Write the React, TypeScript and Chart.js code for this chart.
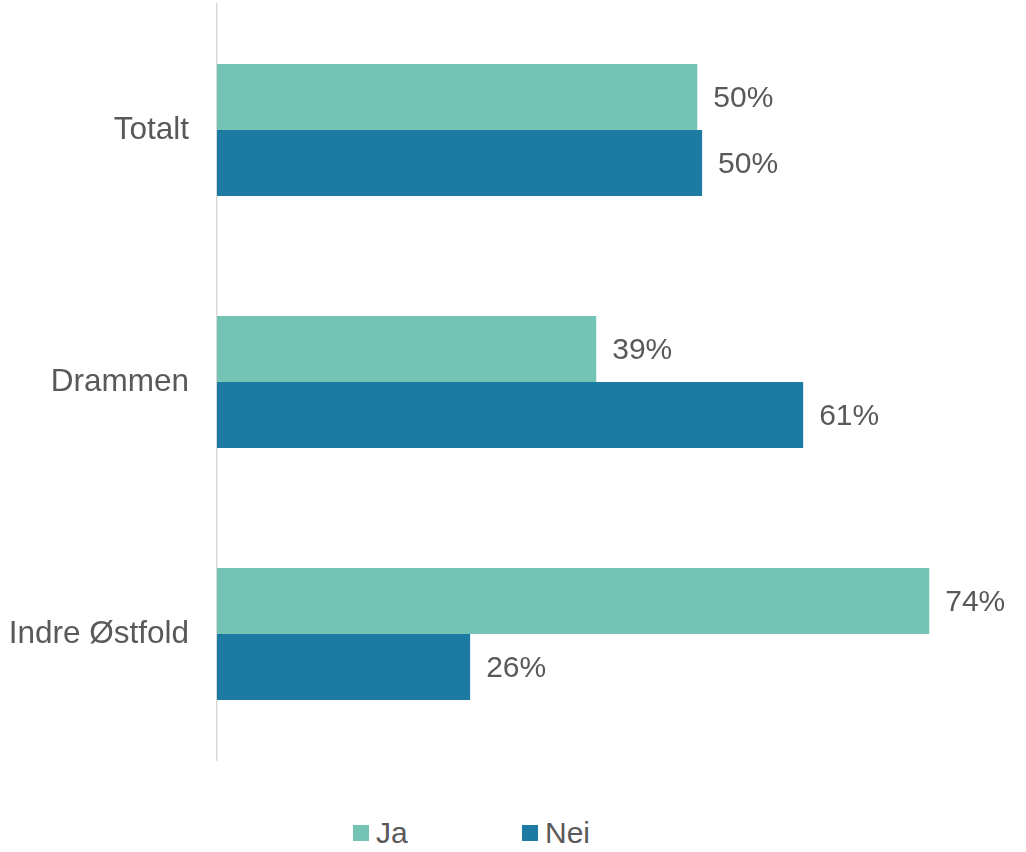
import React, { useEffect, useRef } from 'react';
import { Chart, registerables } from 'chart.js';

Chart.register(...registerables);

const categories = ['Totalt', 'Drammen', 'Indre Østfold'];
const jaValues = [49.9, 39.4, 74.0];
const neiValues = [50.4, 60.9, 26.3];
const seriesNames = ['Ja', 'Nei'];
const seriesColors = ['#73C4B4', '#1D7BA3'];

const FONT = '"Liberation Sans", Arial, sans-serif';

// percent labels at the end of each bar
const valueLabels = {
  id: 'valueLabels',
  afterDatasetsDraw(chart: Chart) {
    const ctx = chart.ctx;
    ctx.save();
    ctx.font = `30px ${FONT}`;
    ctx.fillStyle = '#595959';
    ctx.textAlign = 'left';
    ctx.textBaseline = 'middle';
    chart.data.datasets.forEach((ds, di) => {
      chart.getDatasetMeta(di).data.forEach((bar: any, i) => {
        const v = ds.data[i] as number;
        ctx.fillText(`${Math.round(v)}%`, bar.x + 16, bar.y + 2);
      });
    });
    ctx.restore();
  },
};

export default function App() {
  const canvasRef = useRef<HTMLCanvasElement>(null);

  useEffect(() => {
    document.body.style.margin = '0';
    if (!canvasRef.current) return;
    const chart = new Chart(canvasRef.current, {
      type: 'bar',
      data: {
        labels: categories,
        datasets: [
          { label: seriesNames[0], data: jaValues, backgroundColor: seriesColors[0] },
          { label: seriesNames[1], data: neiValues, backgroundColor: seriesColors[1] },
        ],
      },
      options: {
        indexAxis: 'y',
        animation: false,
        responsive: false,
        devicePixelRatio: 1,
        layout: { padding: { top: 4, bottom: 30, left: 0, right: 39 } },
        datasets: { bar: { barPercentage: 1, categoryPercentage: 0.524 } },
        plugins: { legend: { display: false }, tooltip: { enabled: false } },
        scales: {
          x: { display: false, min: 0, max: 80 },
          y: {
            grid: { display: false, drawTicks: false },
            border: { display: true, color: '#D9D9D9', width: 1.5 },
            ticks: { color: '#595959', font: { family: FONT, size: 31.5 }, padding: 28 },
            afterFit: (scale: any) => {
              scale.width = 217;
              scale.paddingTop = 0;
              scale.paddingBottom = 0;
            },
          },
        },
      },
      plugins: [valueLabels],
    });
    return () => chart.destroy();
  }, []);

  return (
    <div style={{ position: 'relative', width: 1026, height: 852, background: '#fff', fontFamily: FONT }}>
      <canvas ref={canvasRef} width={1026} height={790} style={{ display: 'block' }} />
      <div style={{ position: 'absolute', top: 816, left: 353, display: 'flex', alignItems: 'center', color: '#595959', fontSize: 30 }}>
        {seriesNames.map((name, i) => (
          <div key={name} style={{ display: 'flex', alignItems: 'center', width: i === 0 ? 169 : undefined }}>
            <span style={{ width: 16, height: 16, background: seriesColors[i], display: 'inline-block', marginRight: 7 }} />
            <span>{name}</span>
          </div>
        ))}
      </div>
    </div>
  );
}
